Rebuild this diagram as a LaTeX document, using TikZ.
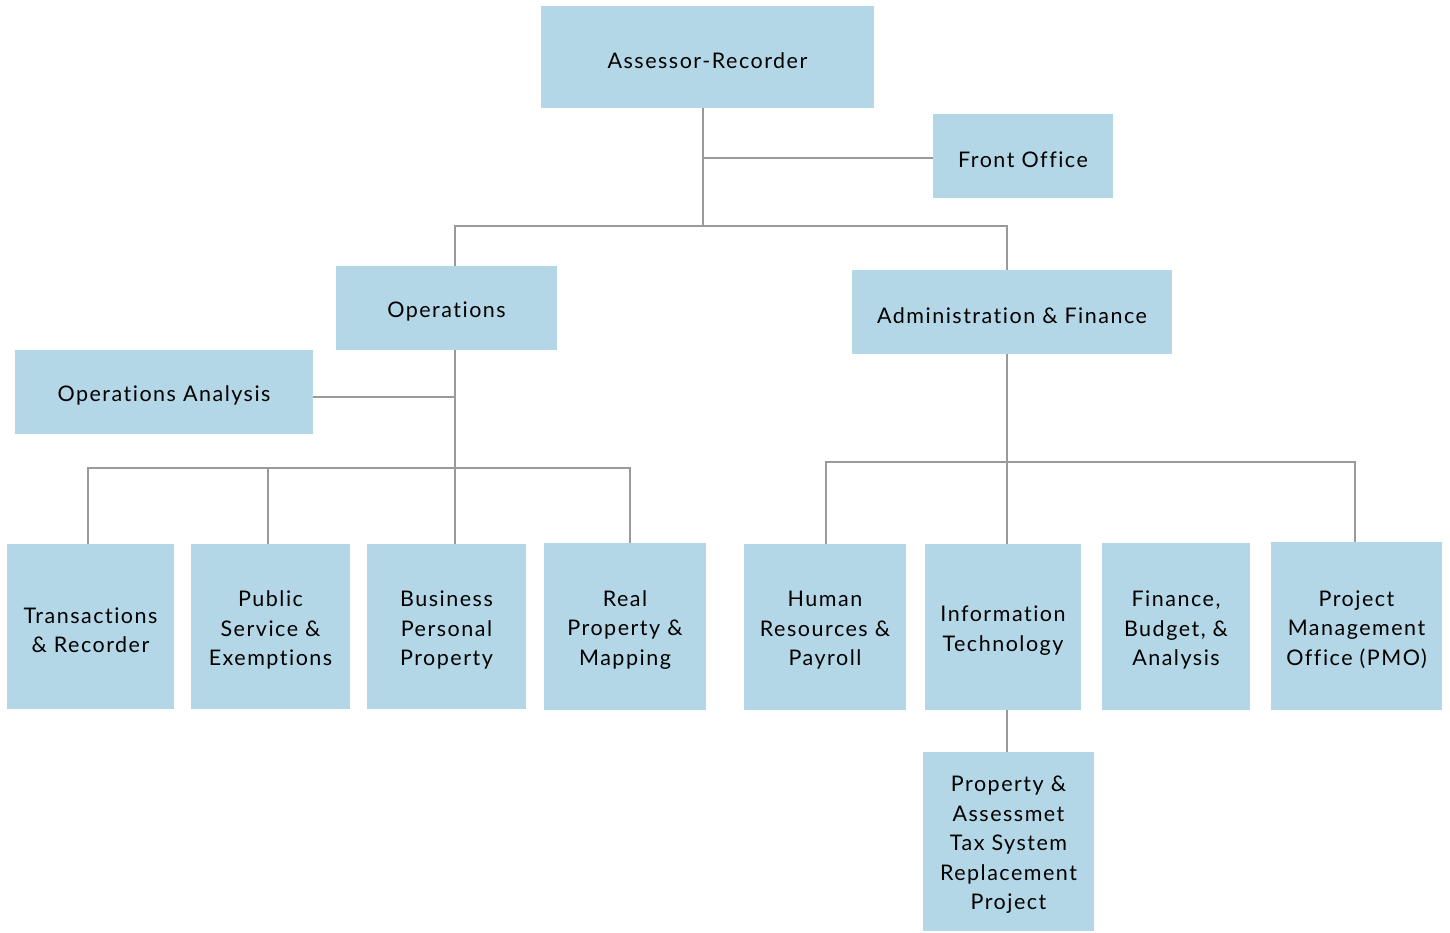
\documentclass[tikz,border=0pt]{standalone}
\usepackage{fontspec}
\setmainfont{Lato}[LetterSpace=7,Ligatures={NoCommon,NoDiscretionary}]
\definecolor{boxblue}{HTML}{B3D7E6}
\definecolor{linegray}{HTML}{9A9A9A}
\begin{document}
\begin{tikzpicture}[x=1pt,y=-1pt,
  box/.style={fill=boxblue, inner sep=0pt},
  txt/.style={align=center, inner sep=0pt, text=black, yshift=-3.5pt,
    font=\fontsize{21.5}{29.5}\selectfont},
  conn/.style={draw=linegray, line width=2.5pt}]
\useasboundingbox (0,0) rectangle (1450,932);
\node[box, minimum width=333, minimum height=102] (A) at (707.5,57) {};
\node[txt] (tA) at (A) {Assessor-Recorder};
\node[box, minimum width=180, minimum height=84] (FO) at (1023,156) {};
\node[txt] (tFO) at (FO) {Front Office};
\node[box, minimum width=221, minimum height=84] (Op) at (446.5,308) {};
\node[txt] (tOp) at (Op) {Operations};
\node[box, minimum width=320, minimum height=84] (AF) at (1012,312) {};
\node[txt] (tAF) at (AF) {Administration \& Finance};
\node[box, minimum width=298, minimum height=84] (OA) at (164,392) {};
\node[txt] (tOA) at (OA) {Operations Analysis};
\node[box, minimum width=167, minimum height=165] (T) at (90.5,626.5) {};
\node[txt] (tT) at (T) {Transactions\\\& Recorder};
\node[box, minimum width=159, minimum height=165] (PS) at (270.5,626.5) {};
\node[txt] (tPS) at (PS) {Public\\Service \&\\Exemptions};
\node[box, minimum width=159, minimum height=165] (BP) at (446.5,626.5) {};
\node[txt] (tBP) at (BP) {Business\\Personal\\Property};
\node[box, minimum width=162, minimum height=167] (RP) at (625,626.5) {};
\node[txt] (tRP) at (RP) {Real\\Property \&\\Mapping};
\node[box, minimum width=162, minimum height=166] (HR) at (825,627) {};
\node[txt] (tHR) at (HR) {Human\\Resources \&\\Payroll};
\node[box, minimum width=156, minimum height=166] (IT) at (1003,627) {};
\node[txt] (tIT) at (IT) {Information\\Technology};
\node[box, minimum width=148, minimum height=167] (FB) at (1176,626.5) {};
\node[txt] (tFB) at (FB) {Finance,\\Budget, \&\\Analysis};
\node[box, minimum width=171, minimum height=168] (PMO) at (1356.5,626) {};
\node[txt] (tPMO) at (PMO) {Project\\Management\\Office (PMO)};
\node[box, minimum width=171, minimum height=179] (PA) at (1008.5,841.5) {};
\node[txt] (tPA) at (PA) {Property \&\\Assessmet\\Tax System\\Replacement\\Project};
% top level
\coordinate (j1) at (703,226);
\coordinate (fo) at (703,158);
\draw[conn] (A.south -| j1) -- (j1);
\draw[conn] (fo) -- (FO.west |- fo);
\coordinate (opx) at (455,226);
\coordinate (afx) at (1007,226);
\draw[conn] (Op.north -| opx) -- (opx) -- (afx) -- (AF.north -| afx);
% operations
\coordinate (j2) at (455,468);
\coordinate (oa) at (455,397);
\draw[conn] (Op.south -| j2) -- (j2);
\draw[conn] (oa) -- (OA.east |- oa);
\coordinate (t1) at (88,468);
\coordinate (t2) at (268,468);
\coordinate (t4) at (630,468);
\draw[conn] (T.north -| t1) -- (t1) -- (t4) -- (RP.north -| t4);
\draw[conn] (t2) -- (PS.north -| t2);
\draw[conn] (j2) -- (BP.north -| j2);
% admin
\coordinate (j3) at (1007,462);
\coordinate (h1) at (826,462);
\coordinate (h4) at (1355,462);
\draw[conn] (AF.south -| j3) -- (j3) -- (IT.north -| j3);
\draw[conn] (HR.north -| h1) -- (h1) -- (h4) -- (PMO.north -| h4);
\draw[conn] (IT.south -| j3) -- (PA.north -| j3);
\end{tikzpicture}
\end{document}
